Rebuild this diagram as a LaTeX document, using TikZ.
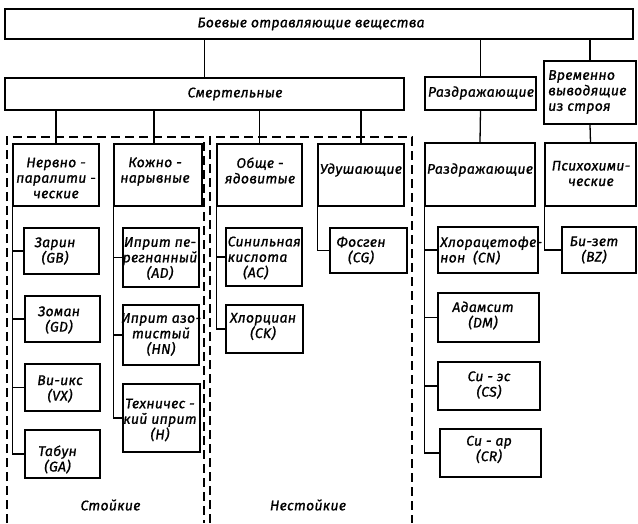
\documentclass[tikz,border=0pt]{standalone}
\usepackage{fontspec}
\setmainfont{Fira Sans}[LetterSpace=2,FakeBold=1]
\newcommand\mkbox[5]{\node[box, minimum width={#4-#2}, minimum height={#5-#3}] (#1) at ({(#2+#4)/2},{(#3+#5)/2}) {};}
\begin{document}
\begin{tikzpicture}[x=1pt,y=-1pt,
  box/.style={draw, rectangle, line width=1.6pt, inner sep=0pt},
  conn/.style={line width=1.3pt},
  frame/.style={line width=1.3pt, dash pattern=on 9pt off 5pt},
  txt/.style={inner sep=0pt, align=center, font=\itshape\fontsize{14}{15.5}\selectfont},
  txtl/.style={txt, align=left, anchor=west}]
\useasboundingbox (0,0) rectangle (638,523);
% dashed groups
\draw[frame] (7,523) |- (204,137) -- (204,523);
\draw[frame] (210,523) |- (412,137) -- (412,523);
% boxes
\mkbox{top}{5}{9}{633}{39}
\mkbox{smert}{5}{78}{404}{110}
\mkbox{razdA}{425}{77}{536}{110}
\mkbox{vrem}{544}{61}{636}{124}
\mkbox{nerv}{13}{144}{99}{206}
\mkbox{kozh}{114}{144}{202}{206}
\mkbox{obshe}{217}{144}{302}{206}
\mkbox{udush}{318}{144}{404}{206}
\mkbox{razdB}{425}{143}{535}{206}
\mkbox{psych}{545}{143}{636}{206}
\mkbox{zarin}{24}{228}{99}{274}
\mkbox{zoman}{25}{296}{100}{342}
\mkbox{viks}{25}{364}{100}{411}
\mkbox{tabun}{25}{430}{100}{478}
\mkbox{iprA}{123}{228}{199}{287}
\mkbox{iprB}{123}{305}{199}{365}
\mkbox{tech}{123}{384}{200}{452}
\mkbox{sinil}{226}{228}{302}{286}
\mkbox{hlorc}{226}{305}{303}{353}
\mkbox{fosg}{330}{228}{407}{273}
\mkbox{hlorac}{438}{227}{538}{273}
\mkbox{adam}{438}{293}{539}{342}
\mkbox{sies}{438}{362}{540}{410}
\mkbox{siar}{440}{429}{541}{477}
\mkbox{bizet}{562}{227}{636}{273}
% texts
\node[txt] (topT) at (311,24) {Боевые отравляющие вещества};
\node[txt] (smertT) at (235,94) {Смертельные};
\node[txt] (razdAT) at (481,93) {Раздражающие};
\node[txtl] (vremT) at (548,92) {Временно\\выводящие\\из строя};
\node[txt] (nervT) at (56,178) {Нервно -\\паралити -\\ческие};
\node[txt] (kozhT) at (155,171.5) {Кожно -\\нарывные};
\node[txt] (obsheT) at (260,170.5) {Обще -\\ядовитые};
\node[txt] (udushT) at (361,170) {Удушающие};
\node[txt] (razdBT) at (480,170) {Раздражающие};
\node[txt] (psychT) at (591,173.5) {Психохими-\\ческие};
\node[txt] (zarinT) at (55,251) {Зарин\\(GB)};
\node[txt] (zomanT) at (59,320) {Зоман\\(GD)};
\node[txt] (viksT) at (60,389) {Ви-икс\\(VX)};
\node[txt] (tabunT) at (57.5,459.5) {Табун\\(GA)};
\node[txt] (iprAT) at (160,258.5) {Иприт пе-\\регнанный\\(AD)};
\node[txt] (iprBT) at (161,334.5) {Иприт азо-\\тистый\\(HN)};
\node[txt] (techT) at (160,420) {Техничес -\\кий иприт\\(H)};
\node[txtl] (sinilT) at (227.5,258) {Синильная\\кислота\\\hspace*{1.1em}(AC)};
\node[txt] (hlorcT) at (263,326.5) {Хлорциан\\(CK)};
\node[txt] (fosgT) at (361,250.5) {Фосген\\(CG)};
\node[txtl] (hloracT) at (440,250.5) {Хлорацетофе-\\нон~~(CN)};
\node[txt] (bizetT) at (594,250) {Би-зет\\(BZ)};
\node[txt] (adamT) at (483,315.5) {Адамсит\\(DM)};
\node[txt] (siesT) at (489,385) {Си - эс\\(CS)};
\node[txt] (siarT) at (489,449.5) {Си - ар\\(CR)};
\node[txt] (stoikT) at (110.5,505) {Стойкие};
\node[txt] (nestoikT) at (308,505) {Нестойкие};
% connectors
\draw[conn] (smert.north) -- (smert.north |- top.south);
\draw[conn] (razdA.north) -- (razdA.north |- top.south);
\draw[conn] (vrem.north) -- (vrem.north |- top.south);
\draw[conn] (nerv.north) -- (nerv.north |- smert.south);
\draw[conn] ([xshift=-4pt]kozh.north) -- ([xshift=-4pt]kozh.north |- smert.south);
\draw[conn] (obshe.north) -- (obshe.north |- smert.south);
\draw[conn] (udush.north) -- (udush.north |- smert.south);
\draw[conn] (razdB.north) -- (razdA.south);
\draw[conn] (psych.north) -- (vrem.south);
\foreach \c in {zarin,zoman,viks,tabun} \draw[conn] (nerv.south west) |- (\c.west);
\foreach \c in {iprA,iprB,tech} \draw[conn] (kozh.south west) |- (\c.west);
\foreach \c in {sinil,hlorc} \draw[conn] (obshe.south west) |- (\c.west);
\draw[conn] (udush.south west) |- (fosg.west);
\foreach \c in {hlorac,adam,sies,siar} \draw[conn] (razdB.south west) |- (\c.west);
\draw[conn] (psych.south west) |- (bizet.west);
\end{tikzpicture}
\end{document}
